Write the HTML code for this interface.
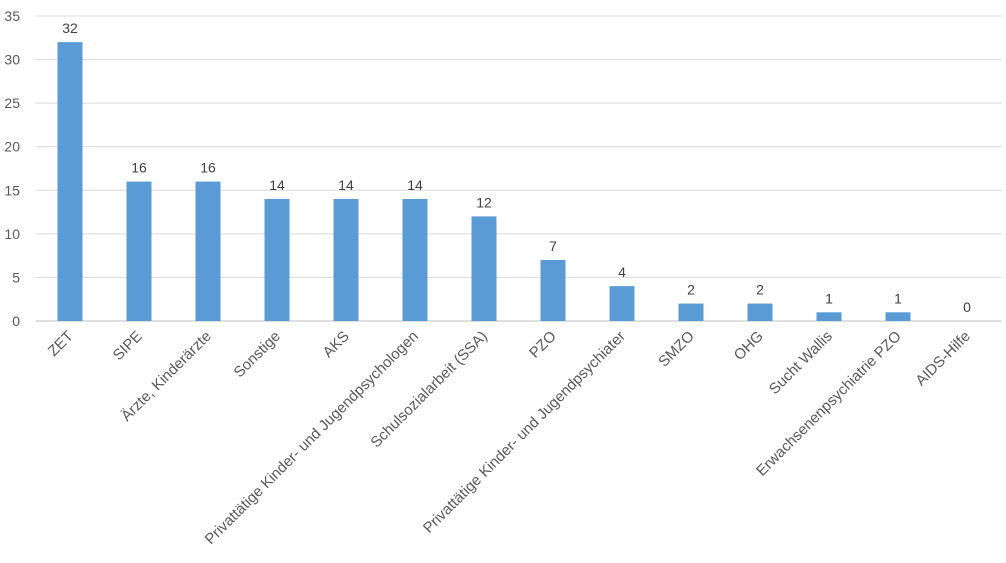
<!DOCTYPE html>
<html><head><meta charset="utf-8"><style>
body{margin:0;background:#fff;}
svg{display:block;font-family:"Liberation Sans",sans-serif;}
</style></head><body>
<svg id="chart" width="1006" height="563" viewBox="0 0 1006 563"></svg>
<script>
const categories=["ZET","SIPE","Ärzte, Kinderärzte","Sonstige","AKS","Privattätige Kinder- und Jugendpsychologen","Schulsozialarbeit (SSA)","PZO","Privattätige Kinder- und Jugendpsychiater","SMZO","OHG","Sucht Wallis","Erwachsenenpsychiatrie PZO","AIDS-Hilfe"];
const values=[32,16,16,14,14,14,12,7,4,2,2,1,1,0];
const yTicks=[0,5,10,15,20,25,30,35];
const NS="http://www.w3.org/2000/svg";
const svg=document.getElementById('chart');
const x0=35.5,bandW=69,yBase=321,yTop=16,yMax=35,barW=25;
const y=v=>yBase-(v/yMax)*(yBase-yTop);
const xc=i=>x0+bandW*(i+0.5);
function mk(t,a){const e=document.createElementNS(NS,t);for(const k in a)e.setAttribute(k,a[k]);svg.appendChild(e);return e;}
yTicks.forEach(t=>{
  const g=mk('line',{x1:x0,x2:1002,y1:y(t),y2:y(t),stroke:t===0?'#bfbfbf':'#d9d9d9','stroke-width':1});
  
  
  const l=mk('text',{x:20,y:y(t)+5,'text-anchor':'end','font-size':14,fill:'#595959'});
  l.textContent=t;
  
  
});
values.forEach((v,i)=>{
  const b=mk('rect',{x:xc(i)-barW/2,y:y(v),width:barW,height:yBase-y(v),fill:'#5b9bd5'});
  
  
  const t=mk('text',{x:xc(i),y:y(v)-9,'text-anchor':'middle','font-size':14,fill:'#404040'});
  t.textContent=v;
  
  
  const c=mk('text',{x:xc(i)+4,y:337,'text-anchor':'end','font-size':15,fill:'#595959',transform:`rotate(-45 ${xc(i)+4} 337)`});
  c.textContent=categories[i];
  
  
});
</script>
</body></html>
